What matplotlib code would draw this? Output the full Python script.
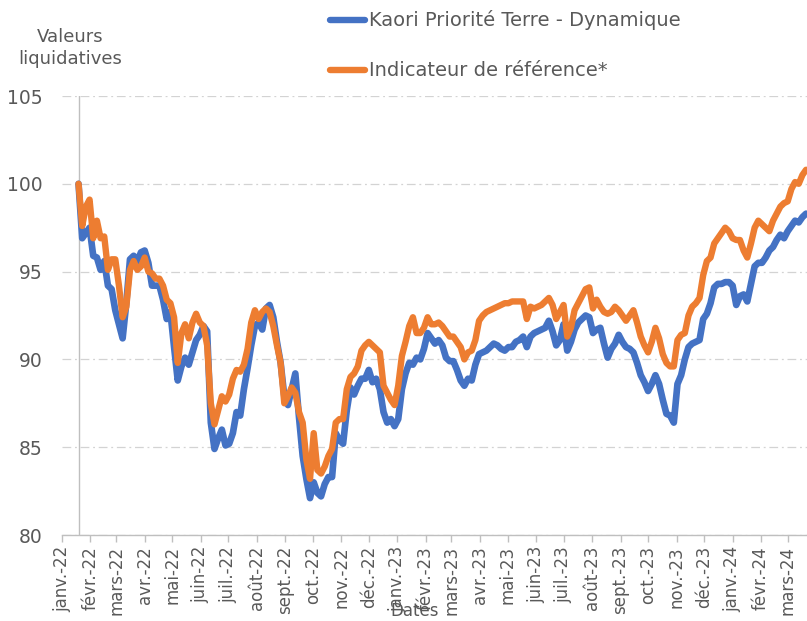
import numpy as np
import pandas as pd
import matplotlib
matplotlib.use('Agg')
import matplotlib.pyplot as plt
from matplotlib.lines import Line2D

plt.rcParams['font.family'] = ['DejaVu Sans']

# ---- data (one value every 4 days) ----
start_date = '2022-01-19'
fonds = [
    100.0, 96.9, 97.2, 97.5, 95.9, 95.8, 95.1, 95.6, 94.2, 94.0,
    92.8, 92.0, 91.2, 93.2, 95.7, 95.9, 95.6, 96.1, 96.2, 95.5,
    94.2, 94.2, 94.2, 93.4, 92.3, 92.7, 90.7, 88.8, 89.6, 90.1,
    89.7, 90.4, 91.1, 91.4, 91.9, 91.6, 86.4, 84.9, 85.5, 86.0,
    85.1, 85.2, 85.8, 87.0, 86.8, 88.3, 89.5, 90.8, 91.9, 92.1,
    91.7, 92.9, 93.1, 92.4, 91.0, 89.8, 87.9, 87.4, 88.3, 89.2,
    86.7, 84.5, 83.2, 82.1, 83.0, 82.4, 82.2, 82.9, 83.3, 83.3,
    85.8, 85.4, 85.2, 87.1, 88.4, 88.0, 88.5, 88.9, 88.9, 89.4,
    88.7, 88.9, 88.3, 87.0, 86.4, 86.6, 86.2, 86.6, 88.3, 89.2,
    89.8, 89.7, 90.1, 90.0, 90.6, 91.5, 91.2, 90.9, 91.1, 90.8,
    90.1, 89.9, 89.9, 89.4, 88.8, 88.5, 88.9, 88.8, 89.7, 90.3,
    90.4, 90.5, 90.7, 90.9, 90.8, 90.6, 90.5, 90.7, 90.7, 91.0,
    91.1, 91.3, 90.7, 91.3, 91.5, 91.6, 91.7, 91.8, 92.2, 91.6,
    90.8, 91.1, 92.0, 90.5, 91.0, 91.7, 92.1, 92.3, 92.5, 92.4,
    91.5, 91.7, 91.8, 90.9, 90.1, 90.6, 90.9, 91.4, 91.0, 90.7,
    90.6, 90.4, 89.8, 89.1, 88.7, 88.2, 88.6, 89.1, 88.6, 87.7,
    86.9, 86.8, 86.4, 88.6, 89.1, 90.0, 90.7, 90.9, 91.0, 91.1,
    92.3, 92.6, 93.2, 94.1, 94.3, 94.3, 94.4, 94.4, 94.2, 93.1,
    93.6, 93.7, 93.3, 94.3, 95.3, 95.5, 95.5, 95.8, 96.2, 96.4,
    96.8, 97.1, 96.9, 97.3, 97.6, 97.9, 97.8, 98.1, 98.3,
]
indicateur = [
    100.0, 97.6, 98.7, 99.1, 96.9, 97.9, 96.9, 97.0, 95.1, 95.7,
    95.7, 94.2, 92.4, 93.0, 95.1, 95.6, 95.1, 95.3, 95.8, 95.0,
    94.9, 94.6, 94.6, 94.2, 93.4, 93.2, 92.4, 89.8, 91.5, 92.0,
    91.2, 92.1, 92.6, 92.1, 91.9, 90.8, 87.5, 86.3, 87.1, 87.9,
    87.6, 88.0, 88.9, 89.4, 89.3, 89.7, 90.6, 92.1, 92.8, 92.3,
    92.7, 92.9, 92.7, 91.9, 90.8, 89.8, 87.5, 87.9, 88.4, 88.1,
    87.0, 86.4, 84.3, 83.2, 85.8, 83.7, 83.5, 83.9, 84.5, 84.9,
    86.4, 86.6, 86.6, 88.3, 89.0, 89.2, 89.6, 90.5, 90.8, 91.0,
    90.8, 90.6, 90.4, 88.5, 88.1, 87.7, 87.4, 88.5, 90.2, 91.0,
    91.9, 92.4, 91.5, 91.5, 91.8, 92.4, 92.0, 92.0, 92.1, 91.9,
    91.6, 91.3, 91.3, 91.0, 90.7, 90.0, 90.4, 90.5, 91.1, 92.2,
    92.5, 92.7, 92.8, 92.9, 93.0, 93.1, 93.2, 93.2, 93.3, 93.3,
    93.3, 93.3, 92.3, 93.0, 92.9, 93.0, 93.1, 93.3, 93.5, 93.1,
    92.3, 92.7, 93.1, 91.3, 91.8, 92.8, 93.2, 93.6, 94.0, 94.1,
    92.9, 93.4, 93.0, 92.7, 92.6, 92.7, 93.0, 92.8, 92.5, 92.2,
    92.5, 92.8, 92.1, 91.3, 90.8, 90.4, 91.0, 91.8, 91.2, 90.3,
    89.8, 89.6, 89.6, 91.1, 91.4, 91.5, 92.5, 93.0, 93.2, 93.5,
    94.8, 95.6, 95.8, 96.6, 96.9, 97.2, 97.5, 97.3, 96.9, 96.8,
    96.8, 96.2, 95.8, 96.6, 97.5, 97.9, 97.7, 97.5, 97.3, 97.9,
    98.3, 98.7, 98.9, 99.0, 99.7, 100.1, 100.0, 100.5, 100.8,
]
dates = pd.date_range(start_date, periods=len(fonds), freq='4D')

series_names = ['Kaori Priorité Terre - Dynamique', 'Indicateur de référence*']
series_colors = ['#4472C4', '#ED7D31']

month_abbr = ['janv.', 'févr.', 'mars', 'avr.', 'mai', 'juin',
              'juil.', 'août', 'sept.', 'oct.', 'nov.', 'déc.']
tick_dates = pd.date_range('2022-01-01', '2024-03-01', freq='MS')
tick_labels = [f"{month_abbr[d.month - 1]}-{d.year % 100:02d}" for d in tick_dates]
y_ticks = [80, 85, 90, 95, 100, 105]

# ---- figure ----
W, H = 807, 621
fig = plt.figure(figsize=(W / 100, H / 100), dpi=100)
ax = fig.add_axes([62 / W, 86 / H, 745 / W, 439 / H])

text_col = '#595959'
axis_col = '#BFBFBF'

ax.plot(dates, fonds, color=series_colors[0], lw=4.8,
        solid_joinstyle='round', solid_capstyle='round', zorder=3)
ax.plot(dates, indicateur, color=series_colors[1], lw=4.6,
        solid_joinstyle='round', solid_capstyle='round', zorder=4)

ax.set_xlim(pd.Timestamp('2022-01-01'), pd.Timestamp('2024-03-22'))
ax.set_ylim(80, 105)

ax.set_yticks(y_ticks)
ax.set_yticklabels([str(v) for v in y_ticks])
ax.set_xticks(tick_dates)
ax.set_xticklabels(tick_labels, rotation=90)

for s in ['top', 'right', 'left']:
    ax.spines[s].set_visible(False)
ax.spines['bottom'].set_color(axis_col)
ax.spines['bottom'].set_linewidth(1)

ax.axvline(dates[0], color=axis_col, lw=1, zorder=2)

ax.tick_params(axis='y', length=0, pad=14, labelsize=13.5, labelcolor=text_col)
ax.tick_params(axis='x', length=5, width=1, color=axis_col, pad=3,
               labelsize=12, labelcolor=text_col)

ax.set_axisbelow(True)
ax.yaxis.grid(True, color='#D3D3D3', lw=0.9, linestyle=(0, (7, 3, 1.5, 3)))

# y title
fig.text(70 / W, 1 - 48 / H, 'Valeurs\nliquidatives', ha='center', va='center',
         fontsize=13, color=text_col, linespacing=1.35, multialignment='center')
# x title (behind the tick labels near the bottom edge)
fig.text(415 / W, 1 - 620 / H, 'Dates', ha='center', va='bottom',
         fontsize=12, color=text_col)

# legend
for k, (name, col) in enumerate(zip(series_names, series_colors)):
    yy = 1 - (20 + 50 * k) / H
    fig.add_artist(Line2D([330 / W, 365 / W], [yy, yy], color=col, lw=4.6,
                          solid_capstyle='round', transform=fig.transFigure))
    fig.text(369 / W, yy, name, ha='left', va='center', fontsize=14, color=text_col)

fig.savefig('out.png', dpi=100)
